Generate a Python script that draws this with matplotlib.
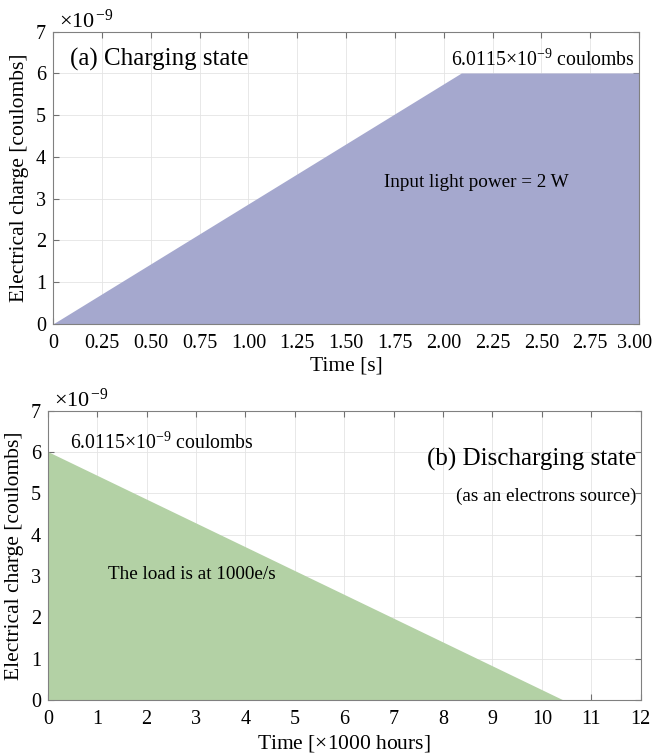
import numpy as np
import matplotlib
matplotlib.use("Agg")
import matplotlib.pyplot as plt
import matplotlib.transforms as mtransforms

plt.rcParams['font.family'] = ['Liberation Serif', 'DejaVu Serif']
plt.rcParams['mathtext.fontset'] = 'custom'
plt.rcParams['mathtext.rm'] = 'Liberation Serif'
plt.rcParams['mathtext.it'] = 'Liberation Serif:italic'

# charge values in units of 1e-9 coulombs
q_max = 6.0115
# (a) charging: time in s
charge_t = [0.0, 2.09, 3.0]
charge_q = [0.0, q_max, q_max]
# (b) discharging: time in 1000 hours
dis_t = [0.0, 10.43]
dis_q = [q_max, 0.0]

top_xticks = [0, 0.25, 0.5, 0.75, 1.0, 1.25, 1.5, 1.75, 2.0, 2.25, 2.5, 2.75, 3.0]
top_xlabels = ['0', '0.25', '0.50', '0.75', '1.00', '1.25', '1.50', '1.75',
               '2.00', '2.25', '2.50', '2.75', '3.00']
bot_xticks = list(range(0, 13))
yticks = list(range(0, 8))

purple = '#a5a8ce'
green = '#b3d1a5'

fig = plt.figure(figsize=(6.55, 7.55), dpi=100)
ax1 = fig.add_axes([0.081, 0.571, 0.8947, 0.387])
ax2 = fig.add_axes([0.073, 0.073, 0.905, 0.383])


def style(ax):
    ax.grid(True, color='#e4e4e4', linewidth=0.6)
    ax.set_axisbelow(True)
    ax.tick_params(direction='in', top=True, right=True, labelsize=14.5,
                   length=4, color='#707070')
    ax.tick_params(axis='x', pad=7)
    ax.tick_params(axis='y', pad=5)
    for s in ax.spines.values():
        s.set_color('#808080')
        s.set_linewidth(0.8)
    ax.set_yticks(yticks)
    ax.set_ylim(0, 7)
    ax.set_ylabel('Electrical charge [coulombs]', fontsize=15.5, labelpad=5)
    ax.text(0.01, 0.995, r'$\times$10$^{\,\mathregular{-9}}$', transform=ax.transAxes,
            fontsize=16, va='bottom', ha='left')


# (a)
ax1.fill_between(charge_t, charge_q, 0, color=purple, linewidth=0)
style(ax1)
ax1.set_xlim(0, 3)
ax1.set_xticks(top_xticks)
ax1.set_xticklabels(top_xlabels)
ax1.set_xlabel('Time [s]', fontsize=15.5, labelpad=3)
ax1.text(0.087, 6.33, '(a) Charging state', fontsize=18, va='center')
ax1.text(2.975, 6.06, r'6.0115$\times$10$^{\mathregular{-9}}$ coulombs',
         fontsize=14.2, ha='right', va='bottom')
ax1.text(2.165, 3.38, 'Input light power = 2 W', fontsize=13.8,
         ha='center', va='center')

# (b)
ax2.fill_between(dis_t, dis_q, 0, color=green, linewidth=0)
style(ax2)
ax2.set_xlim(0, 12)
ax2.set_xticks(bot_xticks)
ax2.set_xlabel(r'Time [$\times$1000 hours]', fontsize=15.5, labelpad=3)
ax2.text(0.45, 6.22, r'6.0115$\times$10$^{\mathregular{-9}}$ coulombs',
         fontsize=14.2, ha='left', va='center')
ax2.text(11.92, 5.81, '(b) Discharging state', fontsize=18,
         ha='right', va='center')
ax2.text(11.92, 4.92, '(as an electrons source)', fontsize=13.8,
         ha='right', va='center')
ax2.text(1.21, 3.03, 'The load is at 1000e/s', fontsize=13.8,
         ha='left', va='center')

# nudge the last top tick label inward so it stays inside the figure
last = ax1.get_xticklabels()[-1]
last.set_transform(last.get_transform() +
                   mtransforms.ScaledTranslation(-5 / 100, 0, fig.dpi_scale_trans))

fig.savefig('out.png', dpi=100)
